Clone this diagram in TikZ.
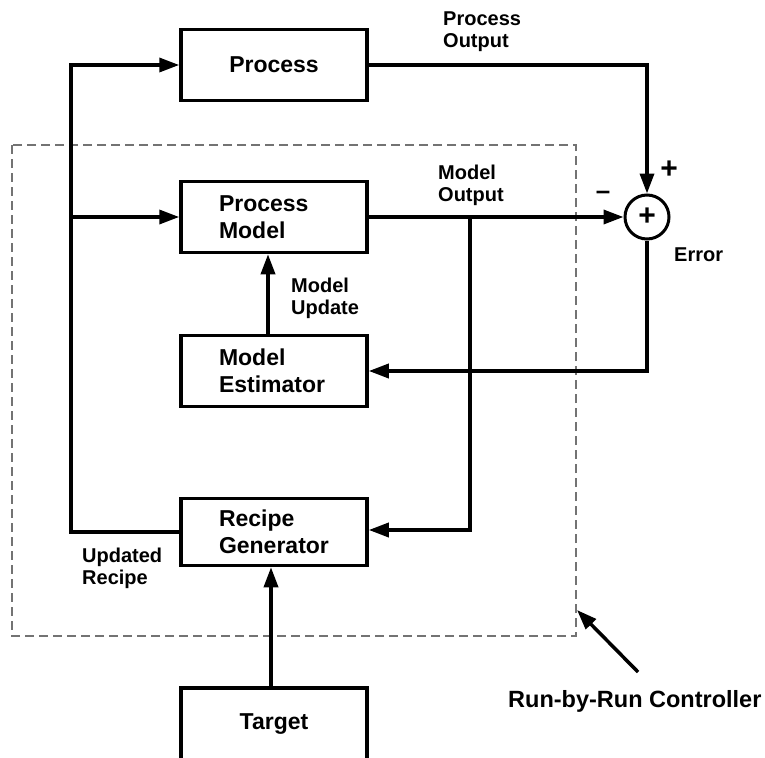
\documentclass[tikz,border=0pt]{standalone}
\usepackage{fontspec}
\setmainfont{Liberation Sans}
\usepackage{tikz}
\usetikzlibrary{positioning,arrows.meta,shapes.geometric,calc}

\begin{document}
\begin{tikzpicture}[x=1pt,y=-1pt,line join=miter,
    box/.style={draw,line width=3.5pt,minimum width=186pt,minimum height=71pt,align=center,font=\fontsize{23}{27}\selectfont\bfseries},
    boxtwo/.style={box,text width=110pt,align=left},
    lbl/.style={anchor=north west,inner sep=0pt,align=left,font=\fontsize{20}{22}\selectfont\bfseries},
    sign/.style={inner sep=0pt,font=\fontsize{30}{30}\selectfont\bfseries},
    arr/.style={-{Triangle[length=20pt,width=14pt]},line width=3.5pt},
    ctrl/.style={draw=black!55,dash pattern=on 9pt off 5pt,line width=1.5pt}]
  \useasboundingbox (0,0) rectangle (765,757);
  \clip (0,0) rectangle (765,757);
  % controller frame
  \draw[ctrl] (12,145) rectangle (576,636);
  % blocks
  \node[box] (proc) at (274,65) {Process};
  \node[boxtwo] (pmodel) at (274,217) {Process\\Model};
  \node[boxtwo] (est) at (274,371) {Model\\Estimator};
  \node[boxtwo,minimum height=67pt] (recipe) at (274,532) {Recipe\\Generator};
  \node[box,minimum height=72pt] (target) at (274,724) {Target};
  \node[circle,draw,line width=3pt,minimum size=44pt,sign] (sum) at (647,217) {+};
  % labels
  \node[lbl] (lpo) at (443,12) {Process\\Output};
  \node[lbl] (lmo) at (438,165) {Model\\Output};
  \node[lbl] (lmu) at (291,278) {Model\\Update};
  \node[lbl] (lur) at (82,548) {Updated\\Recipe};
  \node[lbl] (lerr) at (674,248) {Error};
  \node[sign] (lplus) at (669,170) {+};
  \node[sign,font=\fontsize{26}{26}\selectfont\bfseries] (lminus) at (603,195) {--};
  \node[lbl,font=\fontsize{23.5}{26}\selectfont\bfseries] (lrbr) at (508,690) {Run-by-Run Controller};
  % connections
  \coordinate (bl) at (71,532);
  \coordinate (br) at (470,217);
  \draw[arr] (recipe.west) -- (bl) |- (proc.west);
  \draw[arr] (bl |- pmodel.west) -- (pmodel.west);
  \draw[arr] (proc.east) -| (sum.north);
  \draw[arr] (pmodel.east) -- (sum.west);
  \draw[arr] (br) |- ([yshift=2pt]recipe.east);
  \draw[arr] (sum.south) |- (est.east);
  \draw[arr] ([xshift=-6pt]est.north) -- ([xshift=-6pt]pmodel.south);
  \draw[arr] ([xshift=-3pt]target.north) -- ([xshift=-3pt]recipe.south);
  \coordinate (rtail) at (638,672);
  \coordinate (rtip) at (577,610);
  \draw[arr] (rtail) -- (rtip);
\end{tikzpicture}
\end{document}
